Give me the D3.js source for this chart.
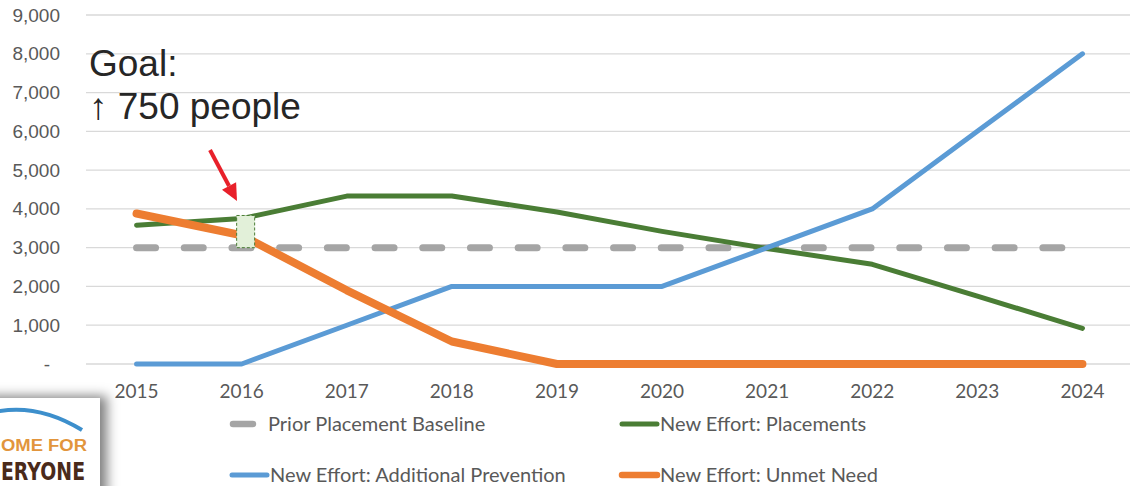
<!DOCTYPE html>
<html>
<head>
<meta charset="utf-8">
<script src="https://cdn.jsdelivr.net/npm/d3@7"></script>
<style>
  html, body { margin: 0; padding: 0; background: #ffffff; }
  svg { display: block; }
</style>
</head>
<body>
<svg id="chart" width="1130" height="486"></svg>
<script>
// ---- data ----
const years = [2015, 2016, 2017, 2018, 2019, 2020, 2021, 2022, 2023, 2024];
const baseline = [3000, 3000, 3000, 3000, 3000, 3000, 3000, 3000, 3000, 3000];
const placements = [3580, 3750, 4330, 4330, 3920, 3420, 2980, 2570, 1750, 920];
const prevention = [0, 0, 1000, 2000, 2000, 2000, 3000, 4000, 6000, 8000];
const unmetNeed = [3880, 3320, 1900, 580, 0, 0, 0, 0, 0, 0];
const yTicks = [0, 1000, 2000, 3000, 4000, 5000, 6000, 7000, 8000, 9000];
const seriesNames = ["Prior Placement Baseline", "New Effort: Placements", "New Effort: Additional Prevention", "New Effort: Unmet Need"];
const goalYear = 2016;
const goalRange = [3000, 3830];
const goalLines = ["Goal:", "\u2191 750 people"];
const logoLines = ["OME FOR", "ERYONE"];

// ---- setup ----
const svg = d3.select("#chart");
const x = d3.scaleBand().domain(years).range([84, 1135]).padding(0);
const xc = d => x(d) + x.bandwidth() / 2;
const y = d3.scaleLinear().domain([0, 9000]).range([364, 15]);

const defs = svg.append("defs");
const f = defs.append("filter").attr("id", "shadow").attr("x", "-50%").attr("y", "-50%").attr("width", "200%").attr("height", "200%");
f.append("feDropShadow").attr("dx", 7).attr("dy", -2).attr("stdDeviation", 6).attr("flood-color", "#000").attr("flood-opacity", 0.5);

// gridlines
svg.append("g").selectAll("line").data(yTicks).join("line")
  .attr("x1", 86).attr("x2", 1130)
  .attr("y1", d => y(d)).attr("y2", d => y(d))
  .attr("stroke", "#d9d9d9").attr("stroke-width", 1.3);

// y axis labels
const yAxis = d3.axisLeft(y).tickValues(yTicks).tickSize(0).tickPadding(0)
  .tickFormat(d => d === 0 ? "-" : d3.format(",")(d));
const yg = svg.append("g").attr("transform", "translate(60,0)").call(yAxis);
yg.select(".domain").remove();
yg.selectAll("text")
  .attr("font-family", "'Liberation Sans', Arial, sans-serif")
  .attr("font-size", 19).attr("fill", "#595959")
  .attr("dx", d => d === 0 ? -10 : 0);

// x axis labels
const xAxis = d3.axisBottom(x).tickSize(0).tickPadding(0);
const xg = svg.append("g").attr("transform", "translate(0,384)").call(xAxis);
xg.select(".domain").remove();
xg.selectAll("text")
  .attr("font-family", "Lato, 'Open Sans', sans-serif")
  .attr("font-size", 19).attr("fill", "#595959").attr("dy", "0.72em");

// series
const series = [
  { name: seriesNames[0], values: baseline, color: "#a5a5a5", width: 7, dash: "19,28.7" },
  { name: seriesNames[1], values: placements, color: "#4a7d35", width: 5, dash: null },
  { name: seriesNames[2], values: prevention, color: "#5b9bd5", width: 5, dash: null },
  { name: seriesNames[3], values: unmetNeed, color: "#ed7d31", width: 8, dash: null }
];
const line = d3.line().x((d, i) => xc(years[i])).y(d => y(d));
svg.append("g").selectAll("path").data(series).join("path")
  .attr("d", s => line(s.values))
  .attr("fill", "none")
  .attr("stroke", s => s.color)
  .attr("stroke-width", s => s.width)
  .attr("stroke-linecap", "round")
  .attr("stroke-linejoin", "round")
  .attr("stroke-dasharray", s => s.dash);

// goal box
svg.append("rect")
  .attr("x", xc(goalYear) - 5).attr("width", 18)
  .attr("y", y(goalRange[1])).attr("height", y(goalRange[0]) - y(goalRange[1]))
  .attr("fill", "#e2f0d9").attr("stroke", "#4a7d35").attr("stroke-width", 1)
  .attr("stroke-dasharray", "3,2");

// red arrow
const ax0 = 210, ay0 = 150, ax1 = 237, ay1 = 201;
const ang = Math.atan2(ay1 - ay0, ax1 - ax0);
const hl = 17, hw = 8;
const bx = ax1 - hl * Math.cos(ang), by = ay1 - hl * Math.sin(ang);
svg.append("line").attr("x1", ax0).attr("y1", ay0).attr("x2", bx).attr("y2", by)
  .attr("stroke", "#e8202a").attr("stroke-width", 4);
svg.append("path")
  .attr("d", `M${ax1},${ay1} L${bx + hw * Math.sin(ang)},${by - hw * Math.cos(ang)} L${bx - hw * Math.sin(ang)},${by + hw * Math.cos(ang)} Z`)
  .attr("fill", "#e8202a");

// goal text
svg.append("g").selectAll("text").data(goalLines).join("text")
  .attr("x", 89).attr("y", (d, i) => 76 + i * 43)
  .attr("font-family", "'Liberation Sans', Arial, sans-serif")
  .attr("font-size", 37).attr("fill", "#262626")
  .text(d => d);

// legend
const legendPos = [[230, 424], [620, 424], [230, 475], [620, 475]];
const lg = svg.append("g").selectAll("g").data(series).join("g")
  .attr("transform", (d, i) => `translate(${legendPos[i][0]},${legendPos[i][1]})`);
lg.append("line")
  .attr("x1", (d, i) => i === 0 ? 3 : 2).attr("x2", (d, i) => i === 0 ? 23 : 37)
  .attr("y1", 0).attr("y2", 0)
  .attr("stroke", d => d.color)
  .attr("stroke-width", d => Math.min(d.width, 6.5))
  .attr("stroke-linecap", "round");
lg.append("text")
  .attr("x", (d, i) => i === 0 ? 38 : 40).attr("y", 0).attr("dy", "0.35em")
  .attr("font-family", "Lato, 'Open Sans', sans-serif")
  .attr("font-size", 20).attr("fill", "#595959")
  .text(d => d.name);

// logo (partially visible)
const logo = svg.append("g");
logo.append("rect").attr("x", -20).attr("y", 398).attr("width", 120).attr("height", 120)
  .attr("fill", "#ffffff").attr("filter", "url(#shadow)");
logo.append("path").attr("d", "M-40,425 Q20,392 82,430")
  .attr("fill", "none").attr("stroke", "#3d8fcc").attr("stroke-width", 4);
logo.append("text").attr("x", 1).attr("y", 451)
  .attr("textLength", 86).attr("lengthAdjust", "spacingAndGlyphs")
  .attr("font-family", "'Liberation Sans', Arial, sans-serif").attr("font-size", 16)
  .attr("font-weight", 600)
  .attr("fill", "#e2953c").text(logoLines[0]);
logo.append("text").attr("x", 1).attr("y", 480)
  .attr("textLength", 84).attr("lengthAdjust", "spacingAndGlyphs")
  .attr("font-family", "'DejaVu Sans', sans-serif").attr("font-weight", "bold").attr("font-size", 24)
  .attr("fill", "#4a2a1a").text(logoLines[1]);
</script>
</body>
</html>
